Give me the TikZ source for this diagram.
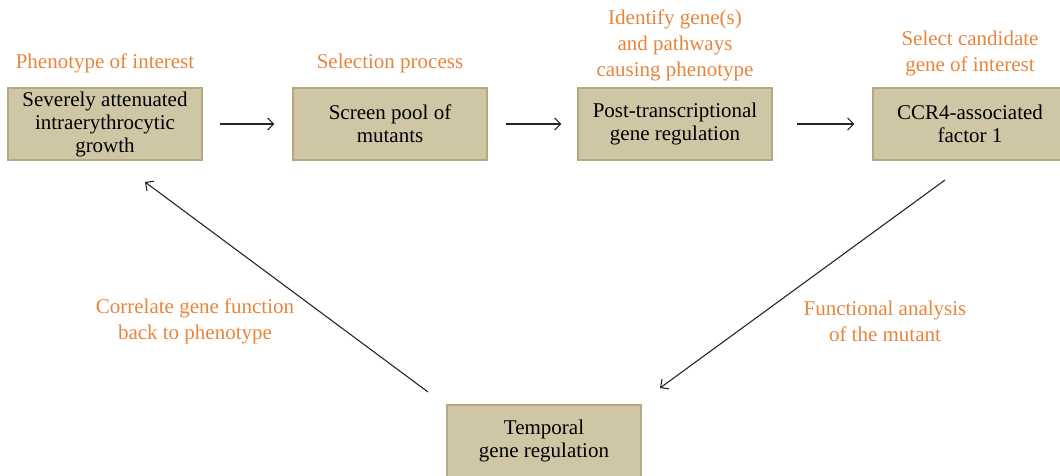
\documentclass[tikz,border=0pt]{standalone}
\usepackage{fontspec}
\setmainfont{Liberation Serif}
\usetikzlibrary{positioning,arrows.meta}
\definecolor{boxtan}{HTML}{CFC6A6}
\definecolor{boxedge}{HTML}{B3A87F}
\definecolor{stepnote}{HTML}{E8853D}
\begin{document}
\begin{tikzpicture}
            [x=1pt,y=-1pt,
             genebox/.style={rectangle,draw=boxedge,fill=boxtan,line width=1.3pt,
                 minimum width=194pt,minimum height=72pt,align=center,inner sep=2pt,
                 font=\fontsize{21}{23}\selectfont},
             notetext/.style={text=stepnote,align=center,inner sep=1pt,
                 font=\fontsize{21}{26}\selectfont},
             flow/.style={-{Straight Barb[length=6pt,width=12pt]},line width=1.1pt,black!85}]
            \useasboundingbox (0,0) rectangle (1060,475);
            % boxes
            \node [genebox] (pheno) at (105,124) {Severely attenuated\\intraerythrocytic\\growth};
            \node [genebox] (screen) at (390,124) {Screen pool of\\mutants};
            \node [genebox] (posttr) at (675,124) {Post-transcriptional\\gene regulation};
            \node [genebox] (ccr) at (970,124) {CCR4-associated\\factor 1};
            \node [genebox] (temporal) at (544,441) {Temporal\\gene regulation};
            % notes above
            \node [notetext,above=13pt of pheno] {Phenotype of interest};
            \node [notetext,above=13pt of screen] {Selection process};
            \node [notetext,above=5pt of posttr] {Identify gene(s)\\and pathways\\causing phenotype};
            \node [notetext,above=10pt of ccr] {Select candidate\\gene of interest};
            \node [notetext] at (195,321) {Correlate gene function\\back to phenotype};
            \node [notetext] at (885,321) {Functional analysis\\of the mutant};
            % arrows
            \coordinate (ccrfoot) at (945,180);
            \coordinate (tempin) at (660,388);
            \coordinate (tempout) at (428,392);
            \coordinate (phenofoot) at (145,182);
            \draw [flow] ([xshift=17pt]pheno.east) -- ([xshift=-18pt]screen.west);
            \draw [flow] ([xshift=18pt]screen.east) -- ([xshift=-16pt]posttr.west);
            \draw [flow] ([xshift=24pt]posttr.east) -- ([xshift=-18pt]ccr.west);
            \draw [flow] (ccrfoot) -- (tempin);
            \draw [flow] (tempout) -- (phenofoot);
        \end{tikzpicture}
\end{document}
